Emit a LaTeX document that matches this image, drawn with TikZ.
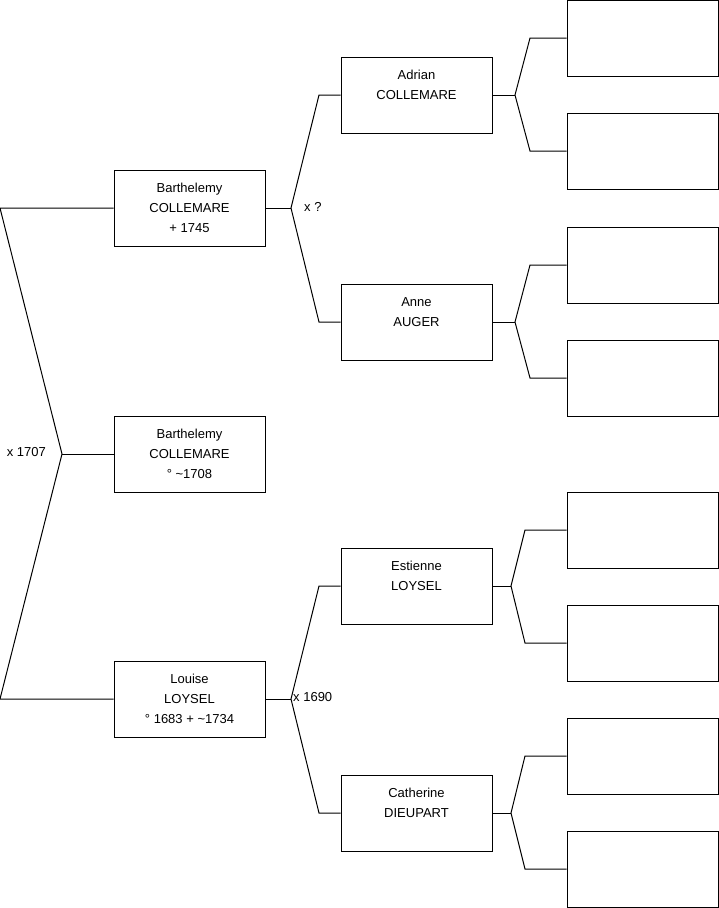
\documentclass[tikz,border=0pt]{standalone}
\usepackage{fontspec}
\setmainfont{Liberation Sans}
\usepackage{tikz}
\usetikzlibrary{positioning,calc}

\begin{document}
\begin{tikzpicture}[x=1pt,y=-1pt,
  font=\fontsize{13}{20}\selectfont,
  person/.style={draw=black,line width=1pt,fill=white,minimum width=151pt,minimum height=76pt,inner sep=0pt,align=center},
  blank/.style={person},
  link/.style={draw=black,line width=1pt},
  marriage/.style={inner sep=0pt}]

\path[use as bounding box] (0,0) rectangle (719,908);
% generation 1 and 2
\node[person] (ego) at (189.5,454) {Barthelemy\\COLLEMARE\\° \textasciitilde1708};
\node[person] (father) at (189.5,208) {Barthelemy\\COLLEMARE\\+ 1745};
\node[person] (mother) at (189.5,699) {Louise\\LOYSEL\\° 1683 + \textasciitilde1734};
% generation 3
\node[person] (ff) at (416.5,95) {Adrian\\COLLEMARE\\\mbox{}};
\node[person] (fm) at (416.5,322) {Anne\\AUGER\\\mbox{}};
\node[person] (mf) at (416.5,586) {Estienne\\LOYSEL\\\mbox{}};
\node[person] (mm) at (416.5,813) {Catherine\\DIEUPART\\\mbox{}};
% generation 4, empty
\node[blank] (fff) at (642.5,38) {};
\node[blank] (ffm) at (642.5,151) {};
\node[blank] (fmf) at (642.5,265) {};
\node[blank] (fmm) at (642.5,378) {};
\node[blank] (mff) at (642.5,530) {};
\node[blank] (mfm) at (642.5,643) {};
\node[blank] (mmf) at (642.5,756) {};
\node[blank] (mmm) at (642.5,869) {};

% forks
\coordinate (egofork) at (62,454);
\coordinate (egoT) at (0,208);
\coordinate (egoB) at (0,699);
\draw[link] (father.west) -- (egoT) -- (egofork) -- (egoB) -- (mother.west);
\draw[link] (egofork) -- (ego.west);
\node[marriage,anchor=east] (egomar) at (46,452) {x 1707};

\coordinate (ffork) at (291,208);
\draw[link] (father.east) -- (ffork);
\draw[link] (ff.west) -- (319,95) -- (ffork) -- (319,322) -- (fm.west);
\node[marriage,anchor=west] (fmar) at (304,207) {x ?};

\coordinate (mfork) at (291,699);
\draw[link] (mother.east) -- (mfork);
\draw[link] (mf.west) -- (319,586) -- (mfork) -- (319,813) -- (mm.west);
\node[marriage,anchor=west] (mmar) at (293,697) {x 1690};

\coordinate (fffork) at (515,95);
\draw[link] (ff.east) -- (fffork);
\draw[link] (fff.west) -- (530,38) -- (fffork) -- (530,151) -- (ffm.west);
\coordinate (fmfork) at (515,322);
\draw[link] (fm.east) -- (fmfork);
\draw[link] (fmf.west) -- (530,265) -- (fmfork) -- (530,378) -- (fmm.west);
\coordinate (mffork) at (511,586);
\draw[link] (mf.east) -- (mffork);
\draw[link] (mff.west) -- (525,530) -- (mffork) -- (525,643) -- (mfm.west);
\coordinate (mmfork) at (511,813);
\draw[link] (mm.east) -- (mmfork);
\draw[link] (mmf.west) -- (525,756) -- (mmfork) -- (525,869) -- (mmm.west);

\end{tikzpicture}
\end{document}
